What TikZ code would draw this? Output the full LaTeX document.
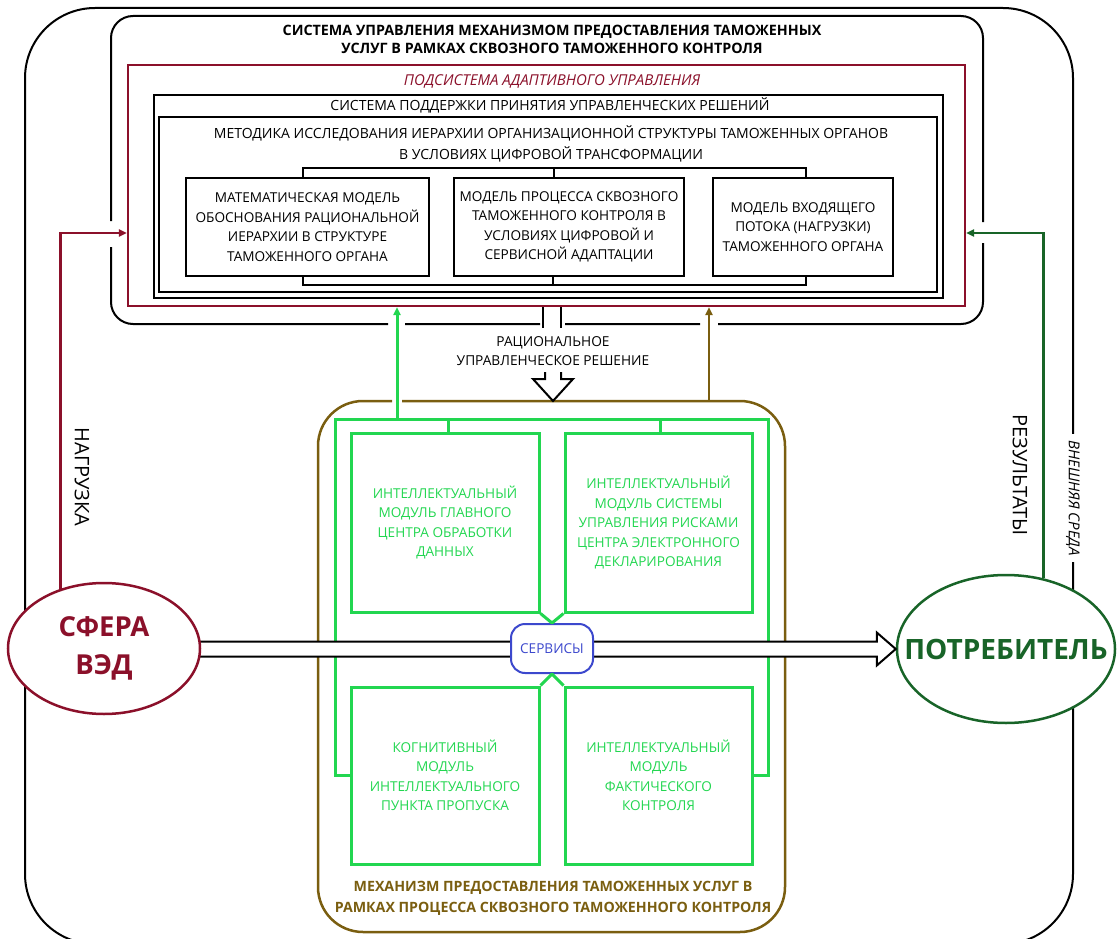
\documentclass[tikz,border=0pt]{standalone}
\usepackage{fontspec}
\setmainfont{Open Sans}
\usetikzlibrary{arrows.meta,shapes.geometric}

\definecolor{vedred}{RGB}{139,16,42}
\definecolor{consgreen}{RGB}{24,100,40}
\definecolor{modgreen}{RGB}{34,214,80}
\definecolor{mechbrown}{RGB}{122,94,16}
\definecolor{servblue}{RGB}{60,72,205}

\tikzset{
  frame/.style={draw=black, line width=2pt},
  txt/.style={inner sep=0pt, align=center, font=\fontsize{13.6}{19.5}\selectfont},
  box/.style={txt, draw=black, line width=2pt},
  modbox/.style={txt, draw=modgreen, line width=3pt, text=modgreen},
  modline/.style={draw=modgreen, line width=3pt},
  mechline/.style={draw=mechbrown, line width=2.5pt},
  vedline/.style={draw=vedred, line width=2.5pt},
  consline/.style={draw=consgreen, line width=2.5pt},
  oval/.style={ellipse, line width=2.5pt, fill=white, inner sep=0pt}
}

\begin{document}
\begin{tikzpicture}[x=1pt, y=-1pt, >={Triangle[length=8pt,width=7pt]}]
\useasboundingbox (0,0) rectangle (1117,939);

% external environment
\draw [frame, rounded corners=70pt] (25,8) rectangle (1073,944);
\node [txt, font=\fontsize{15}{16}\selectfont\itshape, fill=white, rotate=-90, inner xsep=6pt, inner ysep=2pt] (env) at (1073,498) {ВНЕШНЯЯ СРЕДА};

% control system
\draw [frame, rounded corners=22pt] (111,221) -- (111,16) -- (983,16) -- (983,222)
  (983,243) -- (983,324) -- (718,324)
  (700,324) -- (565,324)
  (540,324) -- (405,324)
  (388,324) -- (111,324) -- (111,247);
\node [txt, font=\fontsize{14.3}{18.5}\selectfont\bfseries] (systitle) at (552,39.5) {СИСТЕМА УПРАВЛЕНИЯ МЕХАНИЗМОМ ПРЕДОСТАВЛЕНИЯ ТАМОЖЕННЫХ\\УСЛУГ В РАМКАХ СКВОЗНОГО ТАМОЖЕННОГО КОНТРОЛЯ};

\node [draw=vedred, line width=2.2pt, minimum width=837pt, minimum height=241pt, inner sep=0pt] (adapt) at (546.5,185.5) {};
\node [txt, text=vedred, font=\fontsize{15}{16}\selectfont\itshape] (adapttitle) at (552,81) {ПОДСИСТЕМА АДАПТИВНОГО УПРАВЛЕНИЯ};

\node [box, minimum width=789pt, minimum height=203pt] (dss) at (548.5,196.5) {};
\node [txt, font=\fontsize{14}{16}\selectfont] (dsstitle) at (550,105.5) {СИСТЕМА ПОДДЕРЖКИ ПРИНЯТИЯ УПРАВЛЕНЧЕСКИХ РЕШЕНИЙ};
\node [box, minimum width=778pt, minimum height=175pt] (meth) at (548,204.5) {};
\node [txt, font=\fontsize{14}{21}\selectfont] (methtitle) at (551,143.5) {МЕТОДИКА ИССЛЕДОВАНИЯ ИЕРАРХИИ ОРГАНИЗАЦИОННОЙ СТРУКТУРЫ ТАМОЖЕННЫХ ОРГАНОВ\\В УСЛОВИЯХ ЦИФРОВОЙ ТРАНСФОРМАЦИИ};

\node [box, minimum width=243pt, minimum height=98pt] (m1) at (307.5,227) {МАТЕМАТИЧЕСКАЯ МОДЕЛЬ\\ОБОСНОВАНИЯ РАЦИОНАЛЬНОЙ\\ИЕРАРХИИ В СТРУКТУРЕ\\ТАМОЖЕННОГО ОРГАНА};
\node [box, minimum width=230pt, minimum height=98pt] (m2) at (569,227) {МОДЕЛЬ ПРОЦЕССА СКВОЗНОГО\\ТАМОЖЕННОГО КОНТРОЛЯ В\\УСЛОВИЯХ ЦИФРОВОЙ И\\СЕРВИСНОЙ АДАПТАЦИИ};
\node [box, minimum width=180pt, minimum height=98pt] (m3) at (803,227) {МОДЕЛЬ ВХОДЯЩЕГО\\ПОТОКА (НАГРУЗКИ)\\ТАМОЖЕННОГО ОРГАНА};

\draw [frame] ([xshift=-4.5pt]m1.north) -- ++(0,-9) -| ([xshift=3pt]m3.north);
\draw [frame] ([xshift=-15pt]m2.north) -- ++(0,-9);
\draw [frame] ([xshift=-4.5pt]m1.south) -- ++(0,8) -| ([xshift=3pt]m3.south);
\draw [frame] ([xshift=-16pt]m2.south) -- ++(0,8);

% rational decision
\draw [frame] ([xshift=-3.5pt]adapt.south) -- ++(0,21);
\draw [frame] ([xshift=14.5pt]adapt.south) -- ++(0,21);
\node [txt, font=\fontsize{13.7}{19}\selectfont] (decision) at (553,351.5) {РАЦИОНАЛЬНОЕ\\УПРАВЛЕНЧЕСКОЕ РЕШЕНИЕ};

% mechanism
\coordinate (mtop) at (553,401);
\coordinate (bup) at (709,401);
\draw [mechline, rounded corners=45pt] (402,401) -- (785,401) -- (785,932) -- (318,932) -- (318,401) -- (392,401);
\draw [frame] (mtop) ++(-8,-29) -- ++(0,7) -- ++(-12,0) -- (mtop) -- ++(20,-22) -- ++(-12,0) -- ++(0,-7);
\node [txt, text=mechbrown, font=\fontsize{14.2}{21}\selectfont\bfseries] (mechtitle) at (553,898.5) {МЕХАНИЗМ ПРЕДОСТАВЛЕНИЯ ТАМОЖЕННЫХ УСЛУГ В\\РАМКАХ ПРОЦЕССА СКВОЗНОГО ТАМОЖЕННОГО КОНТРОЛЯ};

\node [modbox, minimum width=188pt, minimum height=179pt] (g1) at (445,522.5) {ИНТЕЛЛЕКТУАЛЬНЫЙ\\МОДУЛЬ ГЛАВНОГО\\ЦЕНТРА ОБРАБОТКИ\\ДАННЫХ};
\node [modbox, minimum width=187pt, minimum height=179pt] (g2) at (658.5,522.5) {ИНТЕЛЛЕКТУАЛЬНЫЙ\\МОДУЛЬ СИСТЕМЫ\\УПРАВЛЕНИЯ РИСКАМИ\\ЦЕНТРА ЭЛЕКТРОННОГО\\ДЕКЛАРИРОВАНИЯ};
\node [modbox, minimum width=188pt, minimum height=177pt] (g3) at (445,775.5) {КОГНИТИВНЫЙ\\МОДУЛЬ\\ИНТЕЛЛЕКТУАЛЬНОГО\\ПУНКТА ПРОПУСКА};
\node [modbox, minimum width=187pt, minimum height=177pt] (g4) at (658.5,775.5) {ИНТЕЛЛЕКТУАЛЬНЫЙ\\МОДУЛЬ\\ФАКТИЧЕСКОГО\\КОНТРОЛЯ};

\coordinate (gtl) at (335,419);
\coordinate (gtr) at (768,419);
\coordinate (gup) at (397,419);
\draw [modline] (g3.west) -| (gtl) -- (gtr) |- (g4.east);
\draw [modline] ([xshift=3pt]g1.north) -- ++(0,-13);
\draw [modline] ([xshift=1.5pt]g2.north) -- ++(0,-13);
\draw [modline, ->] (gup) -- (gup |- adapt.south);
\draw [mechline, ->] (bup) -- (bup |- adapt.south);

% consumer, flow of services
\node [oval, draw=consgreen, minimum width=218pt, minimum height=148pt] (cons) at (1006,649) {};
\node [txt, text=consgreen, font=\fontsize{28}{30}\selectfont\bfseries] (constext) at (cons.center) {ПОТРЕБИТЕЛЬ};
\filldraw [frame, fill=white] (cons.west) -- ++(-19,-16.5) -- ++(0,9) -- ++(-700,0) -- ++(0,15) -- ++(700,0) -- ++(0,9) -- cycle;

\node [draw=servblue, line width=2pt, fill=white, rounded corners=14pt, minimum width=82pt, minimum height=49pt, inner sep=0pt, text=servblue, font=\fontsize{13.6}{16}\selectfont] (serv) at (552,648.5) {СЕРВИСЫ};
\draw [modline, line join=round] (g1.south east) -- (serv.north) -- (g2.south west);
\draw [modline, line join=round] (g3.north east) -- (serv.south) -- (g4.north west);

\node [oval, draw=vedred, minimum width=192pt, minimum height=131pt] (ved) at (104,648.5) {};
\node [txt, text=vedred, font=\fontsize{27.5}{38}\selectfont\bfseries] (vedtext) at (ved.center) {СФЕРА\\ВЭД};

\draw [vedline, ->] (ved.126.6) |- ([yshift=-47.5pt]adapt.west);
\draw [consline, ->] (cons.62) |- ([yshift=-47.5pt]adapt.east);
\node [txt, font=\fontsize{20}{22}\selectfont, rotate=-90] (load) at (82,477) {НАГРУЗКА};
\node [txt, font=\fontsize{20}{22}\selectfont, rotate=-90] (results) at (1020,475) {РЕЗУЛЬТАТЫ};

\end{tikzpicture}
\end{document}
